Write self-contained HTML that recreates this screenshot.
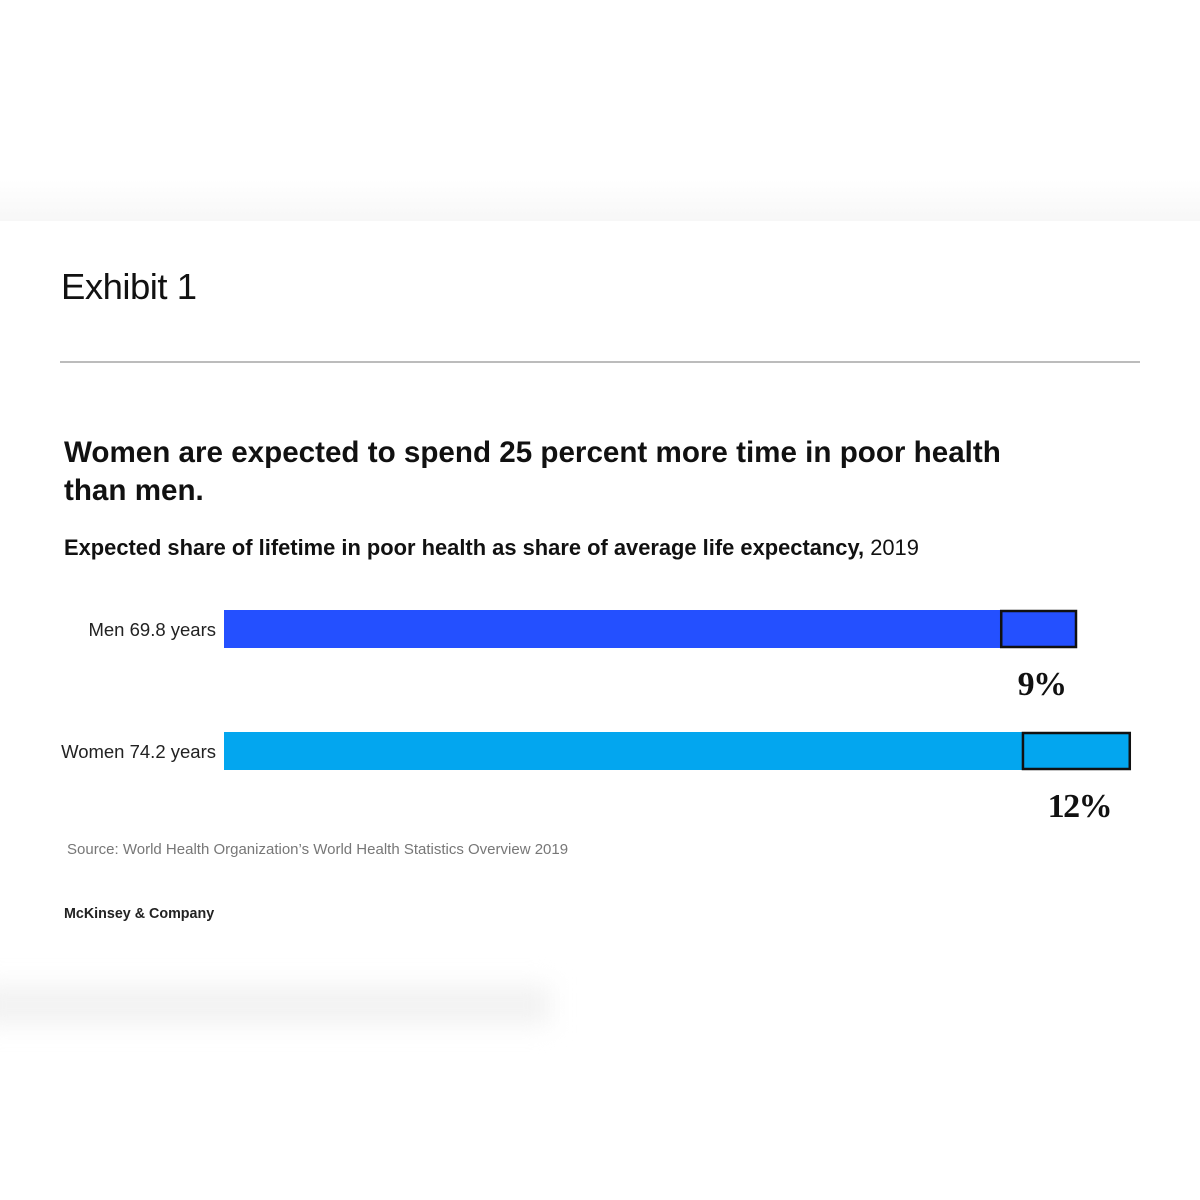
<!DOCTYPE html>
<html><head><meta charset="utf-8"><style>
body{margin:0;width:1200px;height:1200px;background:#fff;position:relative;overflow:hidden;font-family:"Liberation Sans",sans-serif;color:#111}
.a{position:absolute;white-space:nowrap}
</style></head><body>
<div class="a" style="left:0;top:180px;width:1200px;height:41px;background:linear-gradient(#fff,#f7f7f7)"></div>
<div class="a" style="left:-20px;top:985px;width:570px;height:40px;background:#f2f2f2;filter:blur(12px)"></div>
<div class="a" style="left:61px;top:266px;font-size:36.5px;font-weight:300;letter-spacing:-0.5px">Exhibit 1</div>
<div class="a" style="left:60px;top:361px;width:1080px;height:2px;background:#bcbcbc"></div>
<div class="a" style="left:64px;top:434px;font-size:29.6px;font-weight:bold;line-height:38px">Women are expected to spend 25 percent more time in poor health<br>than men.</div>
<div class="a" style="left:64px;top:535px;font-size:21.9px"><b>Expected share of lifetime in poor health as share of average life expectancy,</b> 2019</div>
<svg class="a" style="left:0;top:0" width="1200" height="1200"></svg>
<div class="a" style="left:67px;top:841px;font-size:15px;color:#777">Source: World Health Organization’s World Health Statistics Overview 2019</div>
<div class="a" style="left:64px;top:906px;font-size:14.3px;font-weight:bold;color:#222">McKinsey &amp; Company</div>
<script>
const categories=["Men","Women"];
const lifeExpectancy=[69.8,74.2];
const poorHealthShare=[9,12];
const shareLabels=["9%","12%"];
const colors=["#2450ff","#03a6ef"];
const svg=document.querySelector('svg');
const NS="http://www.w3.org/2000/svg";
const x0=224,pxPerYear=853/69.8;
const xs=v=>x0+v*pxPerYear;
const ys=i=>610+i*122;
categories.forEach((c,i)=>{
  const y=ys(i),end=xs(lifeExpectancy[i]);
  const start=end-(end-x0)*poorHealthShare[i]/100;
  const r=document.createElementNS(NS,'rect');
  
  
  r.setAttribute('x',x0);r.setAttribute('y',y);r.setAttribute('width',end-x0);r.setAttribute('height',38);r.setAttribute('fill',colors[i]);
  svg.appendChild(r);
  const b=document.createElementNS(NS,'rect');
  
  
  b.setAttribute('x',start+1);b.setAttribute('y',y+1);b.setAttribute('width',end-start-2);b.setAttribute('height',36);b.setAttribute('fill','none');b.setAttribute('stroke','#111');b.setAttribute('stroke-width',2.5);
  svg.appendChild(b);
  const l=document.createElementNS(NS,'text');
  
  
  l.setAttribute('x',216);l.setAttribute('y',y+26);l.setAttribute('text-anchor','end');l.setAttribute('font-size','18.5');l.setAttribute('fill','#222');
  l.textContent=c+' '+lifeExpectancy[i]+' years';
  svg.appendChild(l);
  const p=document.createElementNS(NS,'text');
  
  
  p.setAttribute('x',(start+end)/2+3);p.setAttribute('y',y+85);p.setAttribute('text-anchor','middle');p.setAttribute('font-size','34');p.setAttribute('font-weight','bold');p.setAttribute('letter-spacing','-1.5');p.setAttribute('font-family','"Liberation Serif",serif');p.setAttribute('fill','#111');
  p.textContent=shareLabels[i];
  svg.appendChild(p);
});
</script>
</body></html>
